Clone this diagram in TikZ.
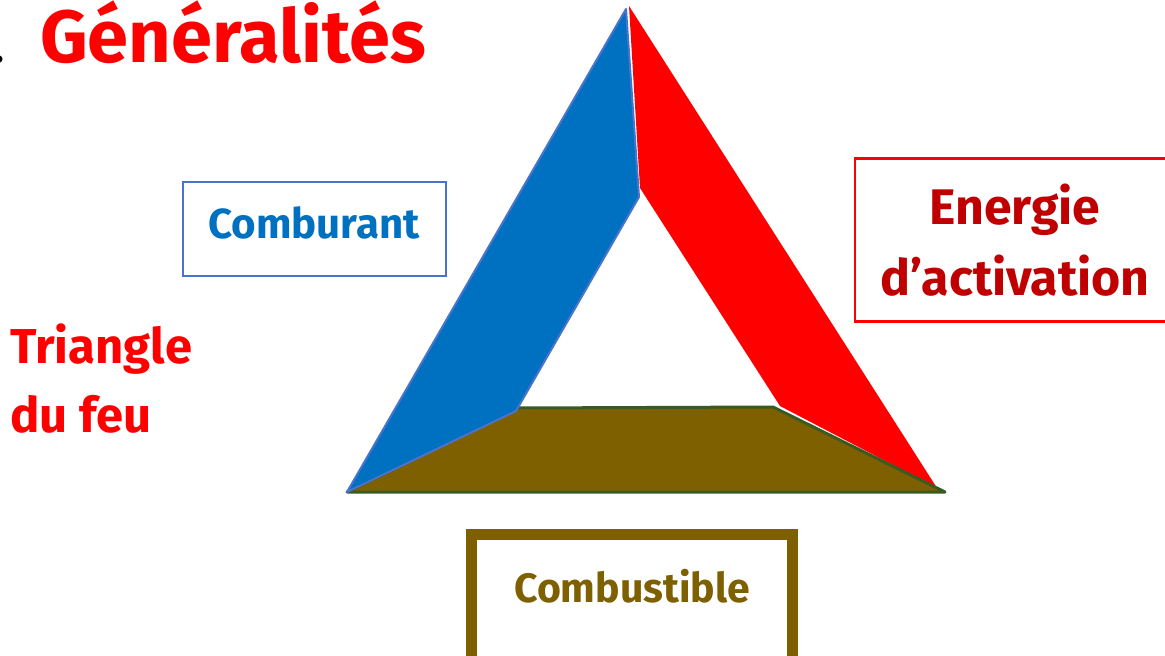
\documentclass[tikz,border=0pt]{standalone}
\usepackage{fontspec}
\setmainfont{Fira Sans}
\usetikzlibrary{positioning}
\definecolor{cBlue}      {HTML}{0070C0}
\definecolor{cBlueLine}  {HTML}{4A74CC}
\definecolor{cRed}       {HTML}{FF0000}
\definecolor{cDarkRed}   {HTML}{C00000}
\definecolor{cBrown}     {HTML}{7F6000}
\definecolor{cGreenLine} {HTML}{3B5A22}
\tikzset{
  labelbox/.style={draw, inner sep=0pt, align=center},
  bigtext/.style={font=\bfseries\fontsize{#1}{#1}\selectfont},
}

\begin{document}
\begin{tikzpicture}[x=1pt, y=-1pt]
  \clip (0,0) rectangle (1165,656);
  \fill[white] (0,0) rectangle (1165,656);
  % corners of the fire triangle
  \coordinate (apexB) at (626,9);
  \coordinate (apexR) at (629,6);
  \coordinate (bl)    at (347,492);
  \coordinate (br)    at (945,492);
  % red side (energie)
  \fill[cRed] (apexR) -- (937,488) -- (780,406) -- (640,188) -- cycle;
  % brown base (combustible)
  \filldraw[fill=cBrown, draw=cGreenLine, line width=3pt, line join=round]
    (bl) -- (517,408) -- (773,407) -- (br) -- cycle;
  % blue side (comburant)
  \filldraw[fill=cBlue, draw=cBlueLine, line width=2pt, line join=round]
    (bl) -- (apexB) -- (639,197) -- (516,411) -- cycle;
  % title
  \node[bigtext=74, text=cRed, anchor=base west, inner sep=0pt] (title) at (40,62) {Généralités};
  \node[bigtext=40, anchor=base east, inner sep=0pt] (dot) at (4,62) {.};
  \node[text=cRed, anchor=base west, inner sep=0pt, align=left,
        font=\bfseries\fontsize{49}{69}\selectfont] (tri) at (10,432) {Triangle\\du feu};
  % the three boxes
  \node[labelbox, draw=cBlueLine, line width=2pt, text=cBlue, bigtext=42, anchor=base,
        minimum width=263pt, text height=56pt, text depth=38pt] (comb) at (314,238) {Comburant};
  \node[labelbox, draw=cRed, line width=2.5pt, text=cDarkRed,
        font=\bfseries\fontsize{50}{71}\selectfont,
        minimum width=320pt, minimum height=163pt] (ener) at (1015,240) {Energie\\d’activation};
  \node[labelbox, draw=cBrown, line width=11pt, text=cBrown, bigtext=41, anchor=base,
        minimum width=321pt, text height=68pt, text depth=100pt] (fuel) at (632,602) {Combustible};
\end{tikzpicture}
\end{document}
